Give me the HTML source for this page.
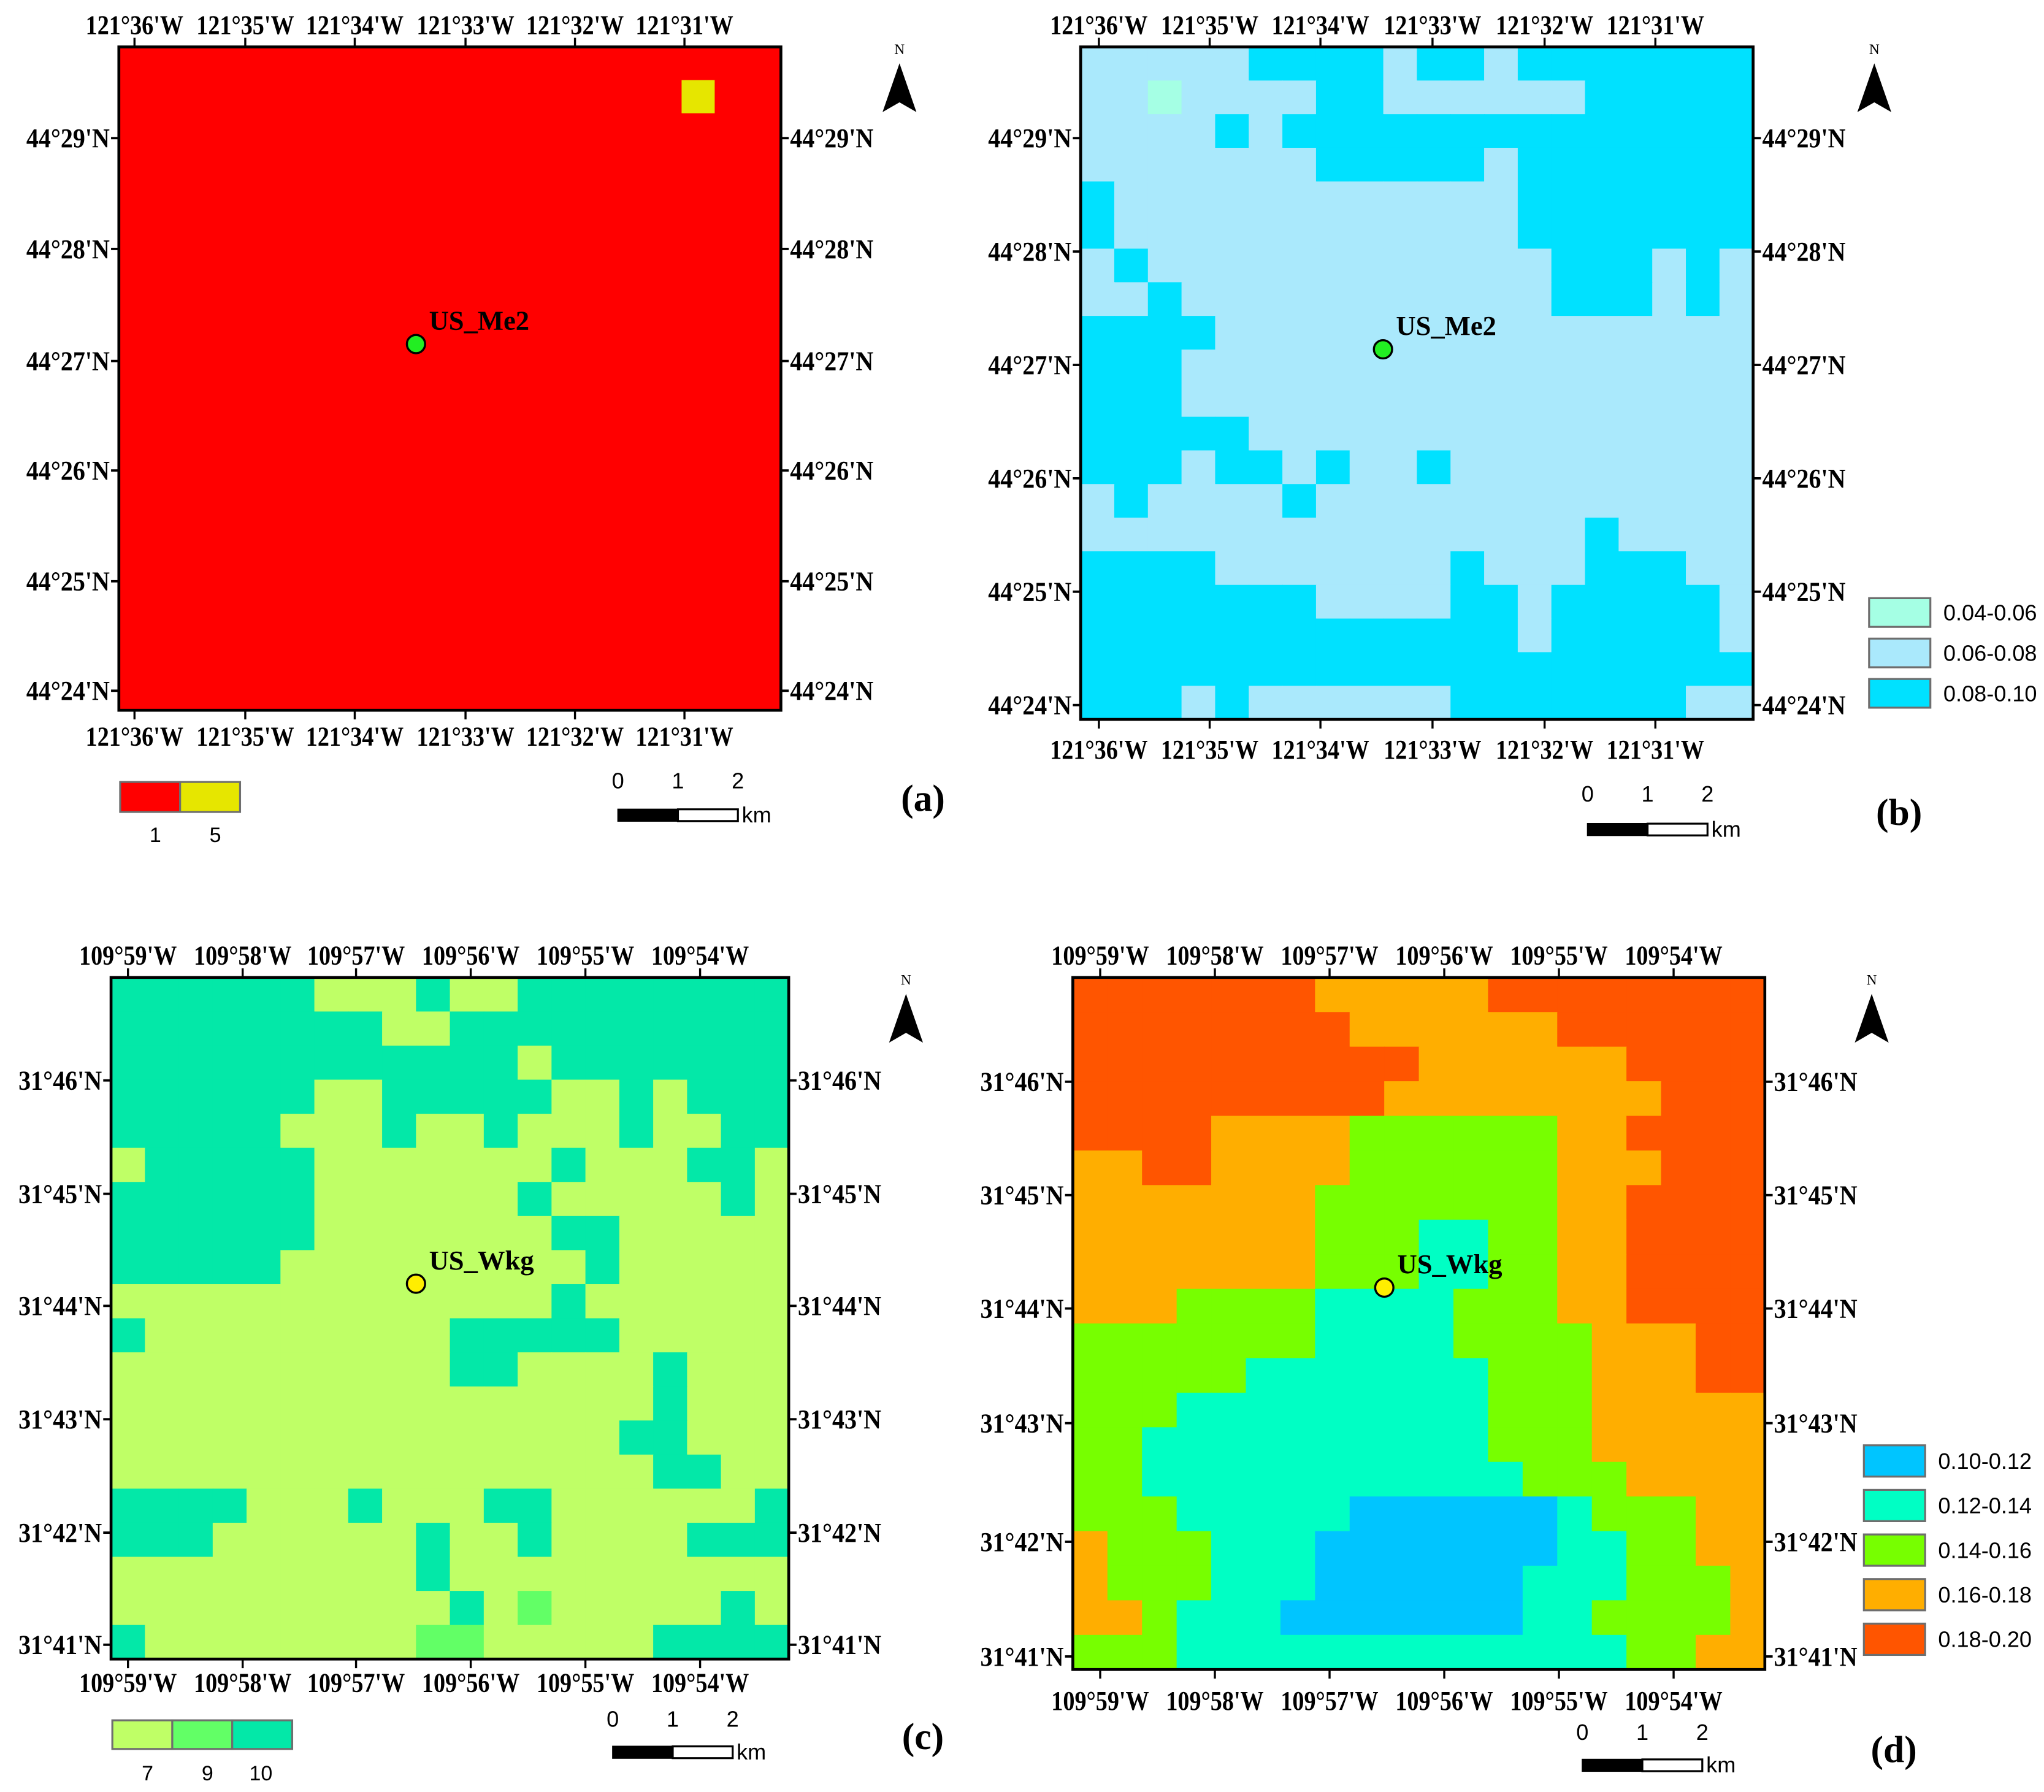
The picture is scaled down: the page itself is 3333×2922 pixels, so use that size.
<!DOCTYPE html>
<html><head><meta charset="utf-8"><style>
html,body{margin:0;padding:0;background:#fff}
svg{display:block}
.t{font-family:"Liberation Serif",serif;font-weight:bold;fill:#000}
.s{font-family:"Liberation Sans",sans-serif;fill:#000}
</style></head><body>
<svg id="fig" xmlns="http://www.w3.org/2000/svg" width="3333" height="2922" viewBox="0 0 1568 1375"></svg>
<script>
// ---- data ----
const gridA = [
"RRRRRRRRRRRRRRRRRRRR","RRRRRRRRRRRRRRRRRYRR","RRRRRRRRRRRRRRRRRRRR","RRRRRRRRRRRRRRRRRRRR","RRRRRRRRRRRRRRRRRRRR",
"RRRRRRRRRRRRRRRRRRRR","RRRRRRRRRRRRRRRRRRRR","RRRRRRRRRRRRRRRRRRRR","RRRRRRRRRRRRRRRRRRRR","RRRRRRRRRRRRRRRRRRRR",
"RRRRRRRRRRRRRRRRRRRR","RRRRRRRRRRRRRRRRRRRR","RRRRRRRRRRRRRRRRRRRR","RRRRRRRRRRRRRRRRRRRR","RRRRRRRRRRRRRRRRRRRR",
"RRRRRRRRRRRRRRRRRRRR","RRRRRRRRRRRRRRRRRRRR","RRRRRRRRRRRRRRRRRRRR","RRRRRRRRRRRRRRRRRRRR","RRRRRRRRRRRRRRRRRRRR"];
const gridB = [
"LLLLLDDDDLDDLDDDDDDD","LLMLLLLDDLLLLLLDDDDD","LLLLDLDDDDDDDDDDDDDD","LLLLLLLDDDDDLDDDDDDD","DLLLLLLLLLLLLDDDDDDD",
"DLLLLLLLLLLLLDDDDDDD","LDLLLLLLLLLLLLDDDLDL","LLDLLLLLLLLLLLDDDLDL","DDDDLLLLLLLLLLLLLLLL","DDDLLLLLLLLLLLLLLLLL",
"DDDLLLLLLLLLLLLLLLLL","DDDDDLLLLLLLLLLLLLLL","DDDLDDLDLLDLLLLLLLLL","LDLLLLDLLLLLLLLLLLLL","LLLLLLLLLLLLLLLDLLLL",
"DDDDLLLLLLLDLLLDDDLL","DDDDDDDLLLLDDLDDDDDL","DDDDDDDDDDDDDLDDDDDL","DDDDDDDDDDDDDDDDDDDD","DDDLDLLLLLLDDDDDDDLL"];
const gridC = [
"GGGGGGYYYGYYGGGGGGGG","GGGGGGGGYYGGGGGGGGGG","GGGGGGGGGGGGYGGGGGGG","GGGGGGYYGGGGGYYGYGGG","GGGGGYYYGYYGYYYGYYGG",
"YGGGGGYYYYYYYGYYYGGY","GGGGGGYYYYYYGYYYYYGY","GGGGGGYYYYYYYGGYYYYY","GGGGGYYYYYYYYYGYYYYY","YYYYYYYYYYYYYGYYYYYY",
"GYYYYYYYYYGGGGGYYYYY","YYYYYYYYYYGGYYYYGYYY","YYYYYYYYYYYYYYYYGYYY","YYYYYYYYYYYYYYYGGYYY","YYYYYYYYYYYYYYYYGGYY",
"GGGGYYYGYYYGGYYYYYYG","GGGYYYYYYGYYGYYYYGGG","YYYYYYYYYGYYYYYYYYYY","YYYYYYYYYYGYMYYYYYGY","GYYYYYYYYMMYYYYYGGGG"];
const gridD = [
"RRRRRRROOOOORRRRRRRR","RRRRRRRROOOOOORRRRRR","RRRRRRRRRROOOOOORRRR","RRRRRRRRROOOOOOOORRR","RRRROOOOGGGGGGOORRRR",
"OORROOOOGGGGGGOOORRR","OOOOOOOGGGGGGGOORRRR","OOOOOOOGGGCCGGOORRRR","OOOOOOOGGGCCGGOORRRR","OOOGGGGCCCCGGGOORRRR",
"GGGGGGGCCCCGGGGOOORR","GGGGGCCCCCCCGGGOOORR","GGGCCCCCCCCCGGGOOOOO","GGCCCCCCCCCCGGGOOOOO","GGCCCCCCCCCCCGGGOOOO",
"GGGCCCCCBBBBBBCGGGOO","OGGGCCCBBBBBBBCCGGOO","OGGGCCCBBBBBBCCCGGGO","OOGCCCBBBBBBBCCGGGGO","GGGCCCCCCCCCCCCCGGOO"];
const lonA = ["121°36'W","121°35'W","121°34'W","121°33'W","121°32'W","121°31'W"];
const latA = ["44°29'N","44°28'N","44°27'N","44°26'N","44°25'N","44°24'N"];
const lonC = ["109°59'W","109°58'W","109°57'W","109°56'W","109°55'W","109°54'W"];
const latC = ["31°46'N","31°45'N","31°44'N","31°43'N","31°42'N","31°41'N"];
const legendB = ["0.04-0.06","0.06-0.08","0.08-0.10"];
const legendD = ["0.10-0.12","0.12-0.14","0.14-0.16","0.16-0.18","0.18-0.20"];
const classesA = ["1","5"];
const classesC = ["7","9","10"];
const sites = ["US_Me2","US_Me2","US_Wkg","US_Wkg"];

// ---- styles/layout ----
const colA={R:"#ff0000",Y:"#e6e600"};
const colB={M:"#a5ffe4",L:"#aae9fc",D:"#00e1ff"};
const colC={Y:"#bfff66",M:"#62ff66",G:"#03e8a8"};
const colD={B:"#00c5ff",C:"#00ffc4",G:"#77ff00",O:"#ffae00",R:"#ff5500"};
const NS="http://www.w3.org/2000/svg";
const svg=document.getElementById('fig');
function el(tag,attrs,parent,text){const e=document.createElementNS(NS,tag);for(const k in attrs)e.setAttribute(k,attrs[k]);if(text!==undefined)e.textContent=text;(parent||svg).appendChild(e);return e;}

const panels=[
 {id:'a',grid:gridA,col:colA,x0:91,y0:36,x1:599,y1:545,lon:lonA,lat:latA,
  lonX:[103,188,272,357,441,525],latY:[106,191,277,361,446,530],topY:26,botY:572,
  site:[319,264],siteFill:"#22ee22",north:690,tag:[708,622],scale:[474,621,605],
  cls:{labels:classesA,cols:["#ff0000","#e6e600"],x:92,y:600,w:46,h:23,ly:646}},
 {id:'b',grid:gridB,col:colB,x0:829,y0:36,x1:1345,y1:552,lon:lonA,lat:latA,
  lonX:[843,928,1013,1099,1185,1270],latY:[106,193,280,367,454,541],topY:26,botY:582,
  site:[1061,268],siteFill:"#22ee22",north:1438,tag:[1457,633],scale:[1218,632,615],
  leg:{labels:legendB,cols:["#a5ffe4","#aae9fc","#00e1ff"],x:1434,y:459,w:47,h:22,step:31}},
 {id:'c',grid:gridC,col:colC,x0:85,y0:750,x1:605,y1:1273,lon:lonC,lat:latC,
  lonX:[98,186,273,361,449,537],latY:[829,916,1002,1089,1176,1262],topY:740,botY:1298,
  site:[319,985],siteFill:"#ffee00",north:695,tag:[708,1342],scale:[470,1340,1325],
  cls:{labels:classesC,cols:["#bfff66","#62ff66","#03e8a8"],x:86,y:1320,w:46,h:22,ly:1366}},
 {id:'d',grid:gridD,col:colD,x0:823,y0:750,x1:1354,y1:1281,lon:lonC,lat:latC,
  lonX:[844,932,1020,1108,1196,1284],latY:[830,917,1004,1092,1183,1271],topY:740,botY:1312,
  site:[1062,988],siteFill:"#ffee00",north:1436,tag:[1453,1352],scale:[1214,1350,1335],
  leg:{labels:legendD,cols:["#00c5ff","#00ffc4","#77ff00","#ffae00","#ff5500"],x:1430,y:1109,w:47,h:24,step:34.2}}
];

panels.forEach((p,pi)=>{
  const g=el('g',{});
  
  
  const n=p.grid.length, m=p.grid[0].length;
  const cx=c=>p.x0+(p.x1-p.x0)*c/m;
  const cy=r=>p.y0+(p.y1-p.y0)*r/n;
  const cells=el('g',{},g);
  
  
  p.grid.forEach((row,r)=>{for(let c=0;c<m;c++){
    const x=cx(c),y=cy(r);
    const rc=el('rect',{x:x,y:y,width:cx(c+1)-x+0.4,height:cy(r+1)-y+0.4,fill:p.col[row[c]]},cells);
    
    
  }});
  const fr=el('rect',{x:p.x0,y:p.y0,width:p.x1-p.x0,height:p.y1-p.y0,fill:'none',stroke:'#000','stroke-width':2.2},g);
  
  
  p.lon.forEach((lab,i)=>{
    const x=p.lonX[i];
    el('line',{x1:x,y1:p.y0-7,x2:x,y2:p.y0,stroke:'#000','stroke-width':1.6},g);
    el('line',{x1:x,y1:p.y1,x2:x,y2:p.y1+7,stroke:'#000','stroke-width':1.6},g);
    const t1=el('text',{class:'t',x:x,y:p.topY,'text-anchor':'middle','font-size':21,textLength:75,lengthAdjust:'spacingAndGlyphs'},g,lab);
    
    
    const t2=el('text',{class:'t',x:x,y:p.botY,'text-anchor':'middle','font-size':21,textLength:75,lengthAdjust:'spacingAndGlyphs'},g,lab);
    
    
  });
  p.lat.forEach((lab,i)=>{
    const y=p.latY[i];
    el('line',{x1:p.x0-6,y1:y,x2:p.x0,y2:y,stroke:'#000','stroke-width':1.8},g);
    el('line',{x1:p.x1,y1:y,x2:p.x1+6,y2:y,stroke:'#000','stroke-width':1.8},g);
    const t1=el('text',{class:'t',x:p.x0-7,y:y+7,'text-anchor':'end','font-size':21,textLength:64,lengthAdjust:'spacingAndGlyphs'},g,lab);
    
    
    const t2=el('text',{class:'t',x:p.x1+7,y:y+7,'font-size':21,textLength:64,lengthAdjust:'spacingAndGlyphs'},g,lab);
    
    
  });
  const s=el('circle',{cx:p.site[0],cy:p.site[1],r:7,fill:p.siteFill,stroke:'#000','stroke-width':1.6},g);
  
  
  const sl=el('text',{class:'t',x:p.site[0]+10,y:p.site[1]-11,'font-size':21},g,sites[pi]);
  
  
  const na=el('g',{},g);
  
  
  const N=p.north, ny=p.y0;
  el('text',{x:N,y:ny+5.5,'text-anchor':'middle','font-size':11,'font-family':'Liberation Serif, serif'},na,'N');
  el('polygon',{points:`${N},${ny+12.6} ${N-13},${ny+50} ${N},${ny+42.5} ${N+13},${ny+50}`,fill:'#000'},na);
  const tg=el('text',{class:'t',x:p.tag[0],y:p.tag[1],'text-anchor':'middle','font-size':29},g,'('+p.id+')');
  
  
  const sb=el('g',{},g);
  
  
  const [sx,sy,sty]=p.scale;
  el('rect',{x:sx,y:sy,width:46,height:9,fill:'#000',stroke:'#000','stroke-width':1},sb);
  el('rect',{x:sx+46,y:sy,width:46,height:9,fill:'#fff',stroke:'#000','stroke-width':1.5},sb);
  ['0','1','2'].forEach((v,i)=>el('text',{class:'s',x:sx+i*46,y:sty,'text-anchor':'middle','font-size':17},sb,v));
  el('text',{class:'s',x:sx+95,y:sy+10,'font-size':17},sb,'km');
  if(p.leg){
    p.leg.labels.forEach((lab,i)=>{
      const lg=el('g',{},g);
      
      
      const y=p.leg.y+i*p.leg.step;
      el('rect',{x:p.leg.x,y:y,width:p.leg.w,height:p.leg.h,fill:p.leg.cols[i],stroke:'#6e6e6e','stroke-width':1.5},lg);
      el('text',{class:'s',x:p.leg.x+p.leg.w+10,y:y+p.leg.h/2+6,'font-size':17},lg,lab);
    });
  }
  if(p.cls){
    p.cls.labels.forEach((lab,i)=>{
      const lg=el('g',{},g);
      
      
      const x=p.cls.x+i*p.cls.w;
      el('rect',{x:x,y:p.cls.y,width:p.cls.w,height:p.cls.h,fill:p.cls.cols[i],stroke:'#6e6e6e','stroke-width':1.5},lg);
      el('text',{class:'s',x:x+p.cls.w/2+(i==2?-1:4),y:p.cls.ly,'text-anchor':'middle','font-size':16},lg,lab);
    });
  }
});
</script>
</body></html>
